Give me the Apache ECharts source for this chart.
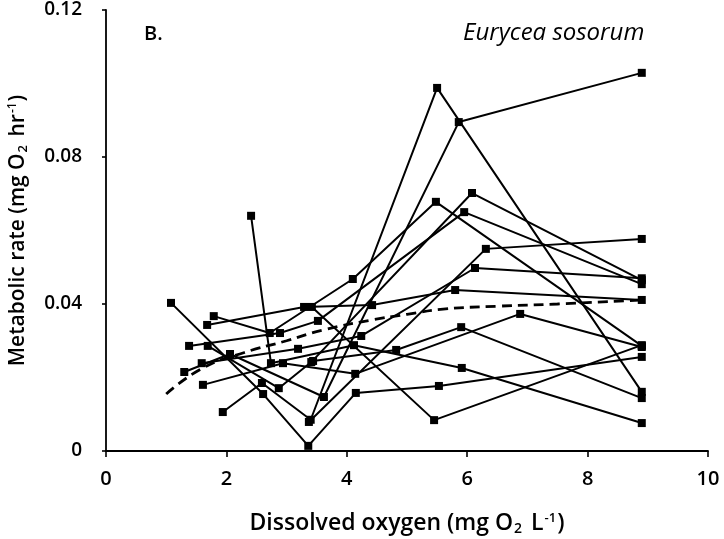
<!DOCTYPE html>
<html>
<head>
<meta charset="utf-8">
<script src="https://cdn.jsdelivr.net/npm/echarts@6/dist/echarts.min.js"></script>
<style>
  html, body { margin: 0; padding: 0; background: #ffffff; }
  #chart { width: 724px; height: 539px; }
</style>
</head>
<body>
<div id="chart"></div>
<script>
// Dissolved oxygen (mg O2/L) and metabolic rate (mg O2/hr), one track per animal
const animal1  = [[1.08, 0.0403], [2.61, 0.0155], [3.36, 0.0014], [4.15, 0.0158], [5.53, 0.0177], [8.9, 0.0256]];
const animal2  = [[2.41, 0.0640], [2.74, 0.0239], [4.12, 0.0288], [5.91, 0.0226], [8.9, 0.0076]];
const animal3  = [[1.79, 0.0367], [2.72, 0.0321], [4.10, 0.0468], [5.48, 0.0678], [8.9, 0.0286]];
const animal4  = [[1.68, 0.0343], [3.29, 0.0392], [4.42, 0.0397], [5.80, 0.0438], [8.9, 0.0411]];
const animal5  = [[1.94, 0.0106], [2.59, 0.0185], [3.40, 0.0085], [5.50, 0.0988], [8.9, 0.0161]];
const animal6  = [[1.30, 0.0215], [2.06, 0.0264], [3.62, 0.0147], [5.86, 0.0895], [8.9, 0.1029]];
const animal7  = [[1.69, 0.0286], [2.87, 0.0171], [3.41, 0.0242], [6.08, 0.0702], [8.9, 0.0465]];
const animal8  = [[1.38, 0.0286], [2.89, 0.0321], [3.52, 0.0354], [5.95, 0.0650], [8.9, 0.0454]];
const animal9  = [[1.61, 0.0180], [2.94, 0.0239], [4.14, 0.0210], [6.88, 0.0373], [8.9, 0.0283]];
const animal10 = [[1.59, 0.0239], [3.19, 0.0278], [4.24, 0.0313], [6.13, 0.0498], [8.9, 0.0470]];
const animal11 = [[3.44, 0.0245], [4.82, 0.0275], [5.90, 0.0337], [8.9, 0.0144]];
const animal12 = [[3.42, 0.0392], [5.45, 0.0084], [8.9, 0.0288]];
const animal13 = [[3.37, 0.0079], [6.31, 0.0550], [8.9, 0.0577]];

// group mean trend
const meanTrend = [[1.0, 0.0155], [1.6, 0.0225], [2.3, 0.0268], [3.0, 0.0300], [3.6, 0.0329],
                   [4.4, 0.0356], [5.0, 0.0372], [5.6, 0.0386], [6.5, 0.0394], [7.5, 0.0400], [8.9, 0.0411]];

const xTicks = { min: 0, max: 10, interval: 2 };
const yTicks = { min: 0, max: 0.12, interval: 0.04 };

const animals = [animal1, animal2, animal3, animal4, animal5, animal6, animal7,
                 animal8, animal9, animal10, animal11, animal12, animal13];

const FONT = "'Open Sans', 'DejaVu Sans', sans-serif";

const series = animals.map((pts, i) => ({
  name: 'animal' + (i + 1),
  type: 'line',
  data: pts,
  symbol: 'rect',
  symbolSize: 8,
  itemStyle: { color: '#000' },
  lineStyle: { color: '#000', width: 2 },
  z: 3,
  animation: false
}));

series.push({
  name: 'mean',
  type: 'line',
  data: meanTrend,
  smooth: true,
  symbol: 'none',
  lineStyle: { color: '#000', width: 2.8, type: [10, 6] },
  z: 4,
  animation: false
});

function richStyles(base) {
  return {
    sub: { fontFamily: FONT, fontSize: Math.round(base * 0.6), fontWeight: 600, color: '#000', padding: [11, 3, 0, 1] },
    sup: { fontFamily: FONT, fontSize: Math.round(base * 0.55), fontWeight: 600, color: '#000', padding: [0, 1, 10, 1] }
  };
}

const chart = echarts.init(document.getElementById('chart'), null, { renderer: 'canvas' });
chart.setOption({
  backgroundColor: '#ffffff',
  animation: false,
  title: [
    { text: 'B.', left: 139, top: 19,
      textStyle: { fontFamily: FONT, fontSize: 20, fontWeight: 600, color: '#000' } },
    { text: 'Eurycea sosorum', left: 458, top: 16,
      textStyle: { fontFamily: FONT, fontSize: 24, fontStyle: 'italic', fontWeight: 400, color: '#000' } }
  ],
  grid: { left: 106, right: 16, top: 10, bottom: 88, containLabel: false, outerBoundsMode: 'none' },
  xAxis: {
    type: 'value',
    min: xTicks.min, max: xTicks.max, interval: xTicks.interval,
    splitLine: { show: false },
    axisLine: { lineStyle: { color: '#000', width: 1.8 } },
    axisTick: { inside: false, length: 6, lineStyle: { color: '#000', width: 1.6 } },
    axisLabel: { color: '#000', fontFamily: FONT, fontSize: 20, fontWeight: 600, margin: 18 },
    name: 'Dissolved oxygen (mg O{sub|2} L{sup|-1})',
    nameLocation: 'middle',
    nameGap: 60,
    nameTextStyle: {
      color: '#000', fontFamily: FONT, fontSize: 23, fontWeight: 600,
      rich: richStyles(23)
    }
  },
  yAxis: {
    type: 'value',
    min: yTicks.min, max: yTicks.max, interval: yTicks.interval,
    splitLine: { show: false },
    axisLine: { show: true, lineStyle: { color: '#000', width: 1.8 } },
    axisTick: { show: true, inside: false, length: 4, lineStyle: { color: '#000', width: 1.6 } },
    axisLabel: { color: '#000', fontFamily: FONT, fontSize: 19, fontWeight: 600, margin: 24 },
    name: 'Metabolic rate (mg O{sub|2} hr{sup|-1})',
    nameLocation: 'middle',
    nameRotate: 90,
    nameGap: 76,
    nameTextStyle: {
      color: '#000', fontFamily: FONT, fontSize: 21, fontWeight: 600,
      rich: richStyles(21)
    }
  },
  series: series
});
</script>
</body>
</html>
